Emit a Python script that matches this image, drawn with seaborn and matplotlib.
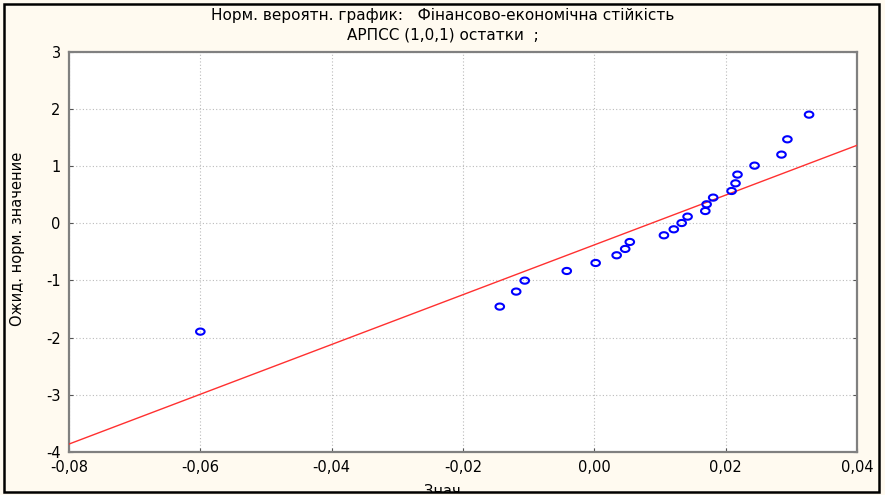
import numpy as np
import pandas as pd
import matplotlib
matplotlib.use("Agg")
import matplotlib.pyplot as plt
from matplotlib.path import Path
from matplotlib.patches import Rectangle
from matplotlib.ticker import FuncFormatter
import seaborn as sns

# ---- data ----
residuals = [-0.0600, -0.0144, -0.0119, -0.0106, -0.0042, 0.0002, 0.0034, 0.0047,
             0.0054, 0.0106, 0.0121, 0.0133, 0.0142, 0.0169, 0.0171, 0.0181,
             0.0209, 0.0215, 0.0218, 0.0244, 0.0285, 0.0294, 0.0327]
expected = [-1.897, -1.459, -1.196, -1.004, -0.835, -0.695, -0.560, -0.449,
            -0.327, -0.210, -0.105, 0.005, 0.117, 0.215, 0.333, 0.450,
            0.566, 0.700, 0.853, 1.010, 1.203, 1.471, 1.903]
fit_intercept = -0.378
fit_slope = 43.6
x_ticks = [-0.08, -0.06, -0.04, -0.02, 0.00, 0.02, 0.04]
y_ticks = [-4, -3, -2, -1, 0, 1, 2, 3]
title_lines = ["Норм. вероятн. график:   Фінансово-економічна стійкість",
               "АРПСС (1,0,1) остатки  ;"]
x_label = "Знач"
y_label = "Ожид. норм. значение"

df = pd.DataFrame({"x": residuals, "y": expected})

sns.set_style("white")
plt.rcParams['font.family'] = ['DejaVu Sans']

bg = "#FFFAF0"
fig = plt.figure(figsize=(8.85, 4.95), dpi=100, facecolor=bg)
ax = fig.add_axes([69/885, 1 - 451.7/495, (857-69)/885, (451.7-52)/495])
ax.set_facecolor("white")

# fitted line across the x range
xl = np.array([x_ticks[0], x_ticks[-1]])
line_df = pd.DataFrame({"x": xl, "y": fit_intercept + fit_slope * xl})
sns.lineplot(data=line_df, x="x", y="y", ax=ax, color="#FF3030", lw=1.0, zorder=3)

# hollow ellipse marker
t = np.linspace(0, 2*np.pi, 40)
ell = Path(np.column_stack([np.cos(t), 0.72*np.sin(t)]), closed=True)
sns.scatterplot(data=df, x="x", y="y", ax=ax, marker=ell, s=38,
                facecolors="none", edgecolor="#0000FF", linewidth=1.5, zorder=4)

ax.set_xlim(x_ticks[0], x_ticks[-1])
ax.set_ylim(y_ticks[0], y_ticks[-1])
ax.set_xticks(x_ticks)
ax.set_yticks(y_ticks)
ax.xaxis.set_major_formatter(FuncFormatter(lambda v, p: f"{v:.2f}".replace(".", ",").replace("-0,00", "0,00")))
ax.yaxis.set_major_formatter(FuncFormatter(lambda v, p: f"{int(round(v))}"))
ax.grid(True, linestyle=(0, (1, 2)), color="#BBBBBB", linewidth=0.8)
ax.tick_params(axis="both", direction="in", length=3, color="#555555",
               labelsize=10.5, pad=6, labelcolor="black",
               right=True, top=False, left=True, bottom=True)
for s in ax.spines.values():
    s.set_color("#808080")
    s.set_linewidth(1.6)
ax.set_xlabel("")
ax.set_ylabel("")

fig.text(0.5, 1 - 15/495, title_lines[0], ha="center", va="center", fontsize=11, color="black")
fig.text(0.5, 1 - 35/495, title_lines[1], ha="center", va="center", fontsize=11, color="black")
fig.text(18/885, 1 - 239/495, y_label, rotation=90, ha="center", va="center", fontsize=10.5, color="black")
fig.text(0.5, 1 - 492/495, x_label, ha="center", va="center", fontsize=10.5, color="black")

# figure border
fig.patches.append(Rectangle((4/885, 3/495), 875/885, 488/495, transform=fig.transFigure,
                             fill=False, edgecolor="black", linewidth=1.8, zorder=10))
# cover below border
fig.patches.append(Rectangle((0, 0), 1, 3/495, transform=fig.transFigure,
                             facecolor=bg, edgecolor="none", zorder=9))

fig.savefig("out.png", dpi=100, facecolor=bg)
